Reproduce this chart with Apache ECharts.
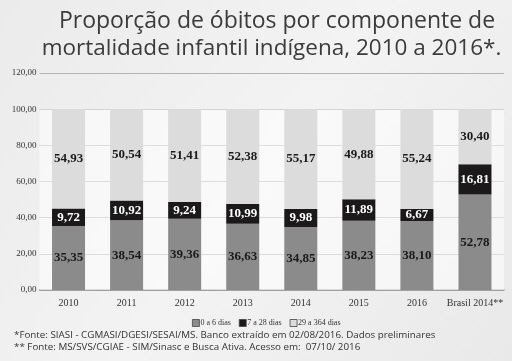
<!DOCTYPE html>
<html><head><meta charset="utf-8">
<script src="https://cdn.jsdelivr.net/npm/echarts@6/dist/echarts.min.js"></script>
<style>html,body{margin:0;padding:0;}#c{width:512px;height:361px;}</style>
</head><body><div id="c"></div>
<script>
var categories = ['2010','2011','2012','2013','2014','2015','2016','Brasil 2014**'];
var seriesNames = ['0 a 6 dias','7 a 28 dias','29 a 364 dias'];
var neonatalPrecoce = [35.35,38.54,39.36,36.63,34.85,38.23,38.10,52.78];
var neonatalTardio = [9.72,10.92,9.24,10.99,9.98,11.89,6.67,16.81];
var posNeonatal = [54.93,50.54,51.41,52.38,55.17,49.88,55.24,30.40];
var yTicks = {min:0, max:120, interval:20};
var titleLine1 = 'Proporção de óbitos por componente de';
var titleLine2 = 'mortalidade infantil indígena, 2010 a 2016*.';
var note1 = '*Fonte: SIASI - CGMASI/DGESI/SESAI/MS. Banco extraído em 02/08/2016. Dados preliminares';
var note2 = '** Fonte: MS/SVS/CGIAE - SIM/Sinasc e Busca Ativa. Acesso em:  07/10/ 2016';

function fmt(v){ return v.toFixed(2).replace('.', ','); }
var serif = '"Liberation Serif","DejaVu Serif",serif';
var chart = echarts.init(document.getElementById('c'));
function lbl(color){
  return {show:true, position:'inside', formatter:function(p){return fmt(p.value);},
    fontFamily:serif, fontWeight:'bold', fontSize:13, color:color};
}
chart.setOption({
  backgroundColor: new echarts.graphic.LinearGradient(0,0,1,1,[{offset:0,color:'#ebebeb'},{offset:0.5,color:'#f3f3f3'},{offset:1,color:'#e9e9e9'}]),
  animation:false,
  grid:{left:39.5, right:8, top:73, bottom:71},
  legend:{data:seriesNames, top:314, left:187, itemWidth:7, itemHeight:7, itemGap:8,
    icon:'rect', itemStyle:{borderColor:'#444', borderWidth:0.8},
    textStyle:{fontFamily:serif, fontSize:8, color:'#333', padding:[0,0,0,-4]}},
  xAxis:{type:'category', data:categories,
    axisLine:{lineStyle:{color:'#999', width:1.5}}, axisTick:{show:false},
    axisLabel:{interval:0, fontFamily:serif, fontSize:10, color:'#333', margin:8}},
  yAxis:{type:'value', min:yTicks.min, max:yTicks.max, interval:yTicks.interval,
    axisLine:{show:false}, axisTick:{show:false},
    axisLabel:{formatter:function(v){return fmt(v);}, fontFamily:serif, fontSize:9, color:'#333', margin:3},
    splitLine:{lineStyle:{color:'#b4b4b4', width:1.2}}},
  series:[
    {name:'_bg', type:'bar', data:[], z:0, silent:true,
      markArea:{silent:true, itemStyle:{color:'rgba(255,255,255,0.55)'}, data:[[{yAxis:0},{yAxis:100}]]}},
    {name:seriesNames[0], type:'bar', stack:'s', data:neonatalPrecoce, barWidth:33, z:3,
      itemStyle:{color:'#8b8b8b'}, label:lbl('#1a1a1a')},
    {name:seriesNames[1], type:'bar', stack:'s', data:neonatalTardio, barWidth:33, z:3,
      itemStyle:{color:'#1b1919'}, label:lbl('#ffffff')},
    {name:seriesNames[2], type:'bar', stack:'s', data:posNeonatal, barWidth:33, z:3,
      itemStyle:{color:'#dcdcdd'}, label:lbl('#1a1a1a')}
  ],
  graphic:[
    {type:'text', x:277, y:10, style:{text:titleLine1, textAlign:'center', font:'23px "Open Sans",sans-serif', fill:'#3b3b3b'}},
    {type:'text', x:271.5, y:37.5, style:{text:titleLine2, textAlign:'center', font:'22.5px "Open Sans",sans-serif', fill:'#3b3b3b'}},
    {type:'text', left:14, top:330, style:{text:note1, font:'9.8px "Open Sans",sans-serif', fill:'#333'}},
    {type:'text', left:14, top:342.5, style:{text:note2, font:'9.8px "Open Sans",sans-serif', fill:'#333'}}
  ]
});
</script></body></html>
